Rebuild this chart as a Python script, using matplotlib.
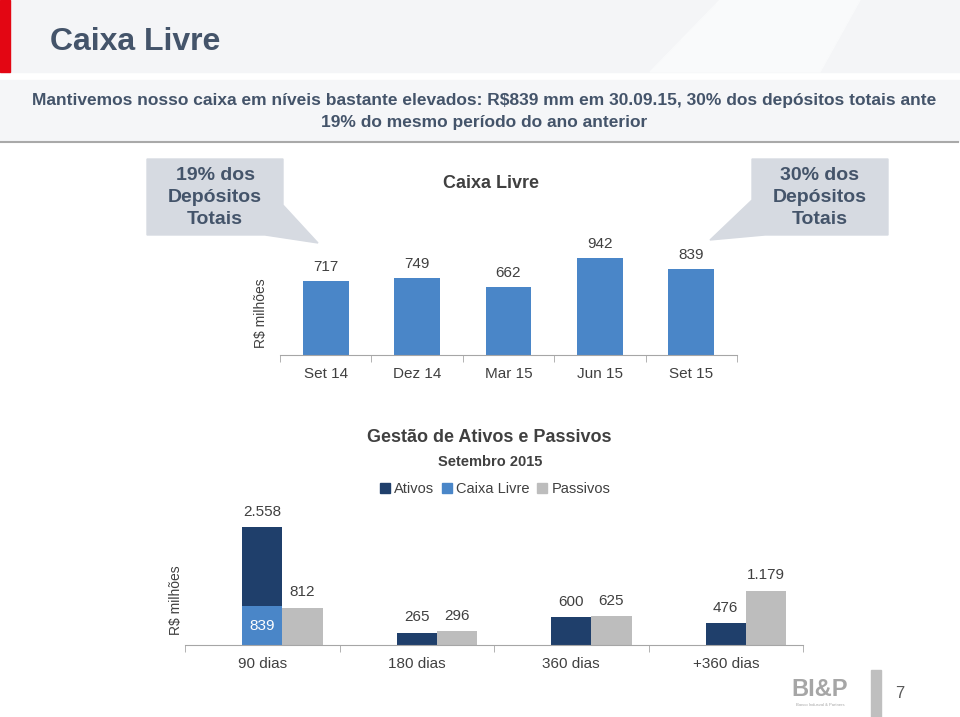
"""
Caixa Livre slide: free cash bars and asset/liability maturity bars
"""

import numpy as np
import matplotlib
matplotlib.use('Agg')
import matplotlib.pyplot as plt
from matplotlib.patches import Polygon, Rectangle
from matplotlib.lines import Line2D

plt.rcParams['font.family'] = ['Liberation Sans', 'DejaVu Sans']

## Data
periodos = ['Set 14', 'Dez 14', 'Mar 15', 'Jun 15', 'Set 15']
caixa_livre = [717, 749, 662, 942, 839]

prazos = ['90 dias', '180 dias', '360 dias', '+360 dias']
ativos = [2558, 265, 600, 476]
caixa_prazo = [839, 0, 0, 0]
passivos = [812, 296, 625, 1179]

W, H = 960, 717
TXT = '#404040'
HEAD = '#44546A'
BLUE = '#4A86C8'
NAVY = '#1F3F6B'
GRAY = '#BDBDBD'


def fx(x):
    return x / W


def fy(y):
    return 1 - y / H


def px_axes(fig, l, t, r, b):
    return fig.add_axes([l / W, 1 - b / H, (r - l) / W, (b - t) / H])


def fmt(v):
    return f'{v:,}'.replace(',', '.')


def style_axis(ax, n):
    for s in ['top', 'right', 'left']:
        ax.spines[s].set_visible(False)
    ax.spines['bottom'].set_color('#A6A6A6')
    ax.set_yticks([])
    ax.set_xlim(-0.5, n - 0.5)
    ax.set_xticks(np.arange(-0.5, n, 1), minor=True)
    ax.tick_params(axis='x', which='minor', length=5, color='#A6A6A6')
    ax.tick_params(axis='x', which='major', length=0, pad=8.5,
                   labelsize=11, labelcolor=TXT)
    ax.patch.set_alpha(0)


fig = plt.figure(figsize=(W / 100, H / 100), dpi=100)
fig.patch.set_facecolor('white')

# header
fig.patches.append(Rectangle((0, fy(72)), 1, 72 / H, transform=fig.transFigure,
                             color='#F4F5F7', zorder=0))
fig.patches.append(Polygon([(fx(650), fy(72)), (fx(720), fy(0)), (fx(860), fy(0)),
                            (fx(820), fy(72))], closed=True,
                           transform=fig.transFigure, color='#F9FAFB', zorder=0))
fig.patches.append(Rectangle((0, fy(72)), fx(10), 72 / H, transform=fig.transFigure,
                             color='#E30613', zorder=1))
fig.text(fx(50), fy(42), 'Caixa Livre', fontsize=23, fontweight='bold',
         color=HEAD, va='center', ha='left')

# subtitle box
fig.patches.append(Rectangle((0, fy(141)), 1, 61 / H, transform=fig.transFigure,
                             color='#F5F6F8', zorder=0))
fig.lines.append(Line2D([0, fx(958)], [fy(142), fy(142)], transform=fig.transFigure,
                        color='#A9A9A9', lw=1.5))
fig.text(fx(484), fy(100),
         'Mantivemos nosso caixa em níveis bastante elevados: R$839 mm em 30.09.15, '
         '30% dos depósitos totais ante', fontsize=12.5, fontweight='bold',
         color=HEAD, ha='center', va='center')
fig.text(fx(484), fy(122), '19% do mesmo período do ano anterior', fontsize=12.5,
         fontweight='bold', color=HEAD, ha='center', va='center')

# callouts
CALL = '#D6DAE1'
left_box = [(147, 159), (283, 159), (283, 205), (318, 243), (265, 235), (147, 235)]
right_box = [(752, 159), (888, 159), (888, 235), (765, 235), (710, 240), (752, 200)]
for pts in [left_box, right_box]:
    fig.patches.append(Polygon([(fx(a), fy(b)) for a, b in pts], closed=True,
                               transform=fig.transFigure, color=CALL, zorder=0))
for cx, pct in [(215, '19%'), (820, '30%')]:
    for yy, line in zip([175, 197, 219], [pct + ' dos', 'Depósitos', 'Totais']):
        fig.text(fx(cx), fy(yy), line, fontsize=14, fontweight='bold', color=HEAD,
                 ha='center', va='center')

# top chart
ax1 = px_axes(fig, 280, 200, 737, 355)
x1 = np.arange(len(periodos))
ax1.bar(x1, caixa_livre, width=0.5, color=BLUE)
ax1.set_ylim(0, 1505)
style_axis(ax1, len(periodos))
ax1.set_xticks(x1)
ax1.set_xticklabels(periodos)
for xi, v in zip(x1, caixa_livre):
    ax1.annotate(fmt(v), (xi, v), xytext=(0, 5), textcoords='offset points',
                 ha='center', va='bottom', fontsize=11, color=TXT)
ax1.set_ylabel('R$ milhões', fontsize=10, color=TXT)
ax1.yaxis.set_label_coords(-0.026, 0.27)
fig.text(fx(491), fy(183), 'Caixa Livre', fontsize=13, fontweight='bold',
         color=TXT, ha='center', va='center')

# bottom chart
ax2 = px_axes(fig, 185, 500, 803, 645)
x2 = np.arange(len(prazos))
bw = 0.26
resto = [a - c for a, c in zip(ativos, caixa_prazo)]
ax2.bar(x2, caixa_prazo, width=bw, color=BLUE, label='Caixa Livre')
ax2.bar(x2, resto, width=bw, bottom=caixa_prazo, color=NAVY, label='Ativos')
ax2.bar(x2 + bw, passivos, width=bw, color=GRAY, label='Passivos')
ax2.set_ylim(0, 3140)
style_axis(ax2, len(prazos))
ax2.set_xticks(x2)
ax2.set_xticklabels(prazos)
for xi, a, p, c in zip(x2, ativos, passivos, caixa_prazo):
    ax2.annotate(fmt(a), (xi, a), xytext=(0, 6), textcoords='offset points',
                 ha='center', va='bottom', fontsize=11, color=TXT)
    ax2.annotate(fmt(p), (xi + bw, p), xytext=(0, 6), textcoords='offset points',
                 ha='center', va='bottom', fontsize=11, color=TXT)
    if c:
        ax2.text(xi, c / 2, fmt(c), ha='center', va='center', fontsize=11,
                 color='white')
ax2.set_ylabel('R$ milhões', fontsize=10, color=TXT)
ax2.yaxis.set_label_coords(-0.003, 0.31)

fig.text(fx(489), fy(438), 'Gestão de Ativos e Passivos', fontsize=13,
         fontweight='bold', color=TXT, ha='center', va='center')
fig.text(fx(490), fy(462), 'Setembro 2015', fontsize=10.5, fontweight='bold',
         color=TXT, ha='center', va='center')

handles = [Rectangle((0, 0), 1, 1, color=c) for c in [NAVY, BLUE, GRAY]]
fig.legend(handles, ['Ativos', 'Caixa Livre', 'Passivos'], loc='center',
           bbox_to_anchor=(fx(495), fy(489)), ncol=3, frameon=False,
           handlelength=0.7, handleheight=0.7, handletextpad=0.3,
           columnspacing=0.5, fontsize=10.5, labelcolor=TXT)

# footer
fig.text(fx(820), fy(690), 'BI&P', fontsize=17, fontweight='bold',
         color='#A6A6A6', ha='center', va='center')
fig.text(fx(820), fy(705), 'Banco Indusval & Partners', fontsize=3,
         color='#A6A6A6', ha='center', va='center')
fig.patches.append(Rectangle((fx(871), 0), 10 / W, 47 / H, transform=fig.transFigure,
                             color='#BFBFBF', zorder=0))
fig.text(fx(900), fy(693), '7', fontsize=12, color='#595959',
         ha='center', va='center')

fig.savefig('out.png', dpi=100)
